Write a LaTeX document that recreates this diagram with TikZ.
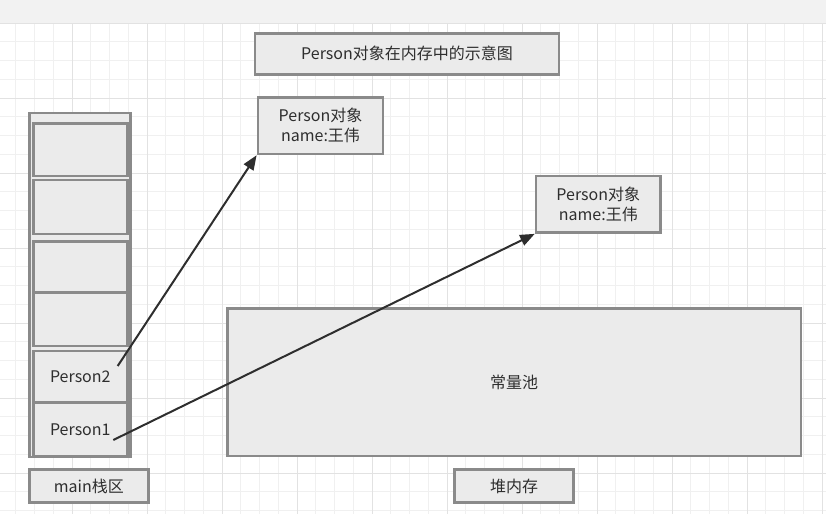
\documentclass[tikz,border=0pt]{standalone}
\usepackage{fontspec}
\setmainfont{Noto Sans CJK SC}
\usetikzlibrary{arrows.meta}
\definecolor{boxfill}{HTML}{EBEBEB}
\definecolor{boxline}{HTML}{8A8A8A}
\definecolor{ink}{HTML}{2E2E2E}
\definecolor{gridminor}{HTML}{F0F0F0}
\definecolor{gridmajor}{HTML}{E2E2E2}
\definecolor{topbar}{HTML}{F2F2F2}
\begin{document}
\begin{tikzpicture}[x=0.75pt,y=-0.75pt,
    box/.style={draw=boxline,fill=boxfill,line width=1.8pt,inner sep=0pt,
      text=ink,align=center,font=\fontsize{12}{15}\selectfont},
    link/.style={draw=ink,line width=1.5pt,-{Triangle[length=11pt,width=8.5pt]}}]
      \useasboundingbox (0,0) rectangle (826,514);
      \fill[topbar] (0,0) rectangle (826,23);
      \begin{scope}[line width=0.75pt]
        \foreach \x in {-3,15.75,...,823} \draw[gridminor] (\x,23) -- (\x,514);
        \foreach \y in {23,41.75,...,514} \draw[gridminor] (0,\y) -- (826,\y);
        \foreach \x in {-3,72,...,823} \draw[gridmajor] (\x,23) -- (\x,514);
        \foreach \y in {23,98,...,514} \draw[gridmajor] (0,\y) -- (826,\y);
      \end{scope}
      \draw
        (407,53.8) node[box,minimum width=228pt,minimum height=30.75pt] (title){Person对象在内存中的示意图}
        (320.5,125.7) node[box,minimum width=94pt,minimum height=42.5pt] (obj1){Person对象\\name:王伟}
        (598.3,204.3) node[box,minimum width=93.5pt,minimum height=42.5pt] (obj2){Person对象\\name:王伟}
        (80,285) node[box,minimum width=75.75pt,minimum height=257.6pt] (stack){}
        (80.3,149.7) node[box,minimum width=70.5pt,minimum height=39.5pt] (s1){}
        (80.3,207) node[box,minimum width=70.5pt,minimum height=40.5pt] (s2){}
        (80.3,267) node[box,minimum width=70.5pt,minimum height=38.5pt] (s3){}
        (80.3,319.3) node[box,minimum width=70.5pt,minimum height=40pt] (s4){}
        (80.3,376.7) node[box,minimum width=70.5pt,minimum height=39pt] (s5){Person2}
        (80.3,429.3) node[box,minimum width=70.5pt,minimum height=40pt] (s6){Person1}
        (514.2,382.2) node[box,minimum width=430.3pt,minimum height=110.8pt] (heap){常量池}
        (88.8,486) node[box,minimum width=89.25pt,minimum height=25pt] (stacklabel){main栈区}
        (514,486) node[box,minimum width=89pt,minimum height=25pt] (heaplabel){堆内存};
      \coordinate (p2) at (117.7,366);
      \coordinate (p1) at (113.3,440);
      \begin{scope}[link]
        \draw (p2) to (obj1.south west);
        \draw (p1) to (obj2.south west);
      \end{scope}
    \end{tikzpicture}
\end{document}
